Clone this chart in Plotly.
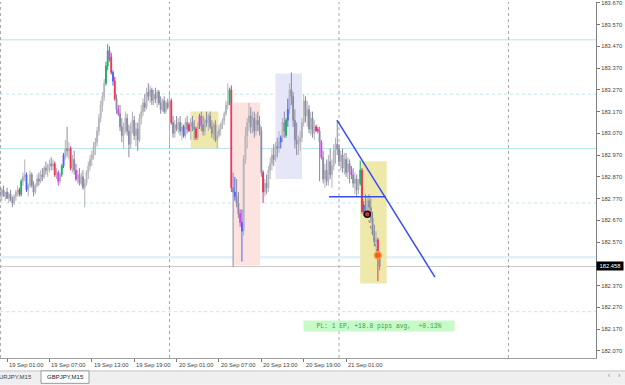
import plotly.graph_objects as go
import pandas as pd

# ---------------- data ----------------
bar_start = "2023-09-19 00:00"

open_p = [
    182.80, 182.79, 182.81, 182.78, 182.80, 182.77, 182.79, 182.76, 182.75, 182.78,
    182.80, 182.81, 182.79, 182.85, 182.87, 182.88, 182.81, 182.83, 182.88, 182.83,
    182.80, 182.83, 182.86, 182.85, 182.88, 182.87, 182.91, 182.90, 182.92, 182.93,
    182.92, 182.93, 182.88, 182.89, 182.85, 182.88, 182.92, 182.97, 183.00, 182.99,
    183.00, 182.91, 182.95, 182.90, 182.86, 182.88, 182.84, 182.87, 182.82, 182.84,
    182.89, 182.92, 182.95, 182.97, 183.01, 183.03, 183.08, 183.14, 183.20, 183.24,
    183.30, 183.38, 183.45, 183.42, 183.35, 183.31, 183.23, 183.18, 183.16, 183.10,
    183.06, 183.09, 183.14, 183.08, 183.02, 183.10, 183.13, 183.06, 183.09, 183.04,
    183.14, 183.17, 183.21, 183.19, 183.26, 183.24, 183.27, 183.22, 183.25, 183.23,
    183.26, 183.21, 183.18, 183.22, 183.17, 183.21, 183.19, 183.22, 183.12, 183.07,
    183.11, 183.09, 183.12, 183.08, 183.10, 183.06, 183.12, 183.11, 183.08, 183.12,
    183.10, 183.09, 183.05, 183.10, 183.15, 183.11, 183.08, 183.13, 183.12, 183.15,
    183.10, 183.07, 183.11, 183.04, 183.06, 183.09, 183.11, 183.13, 183.16, 183.20,
    183.21, 183.27, 182.82, 182.80, 182.78, 182.75, 182.70, 182.66, 182.62, 182.95,
    183.06, 183.12, 183.15, 183.10, 183.14, 183.08, 183.13, 183.11, 183.08, 182.89,
    182.80, 182.84, 182.82, 182.90, 182.93, 182.97, 182.95, 183.01, 183.00, 183.03,
    183.05, 183.12, 183.06, 183.13, 183.18, 183.27, 183.24, 183.13, 183.04, 183.02,
    183.03, 183.05, 183.12, 183.22, 183.15, 183.18, 183.09, 183.14, 183.07, 183.10,
    183.09, 183.08, 183.03, 182.96, 182.86, 182.90, 182.85, 182.94, 182.88, 182.92,
    182.99, 183.02, 183.00, 182.94, 182.97, 182.91, 182.95, 182.89, 182.93, 182.90,
    182.88, 182.84, 182.86, 182.81, 182.84, 182.90, 182.71, 182.74, 182.72, 182.76,
    182.73, 182.68, 182.62, 182.57, 182.58, 182.50,
]
high_p = [
    182.83, 182.82, 182.83, 182.80, 182.82, 182.80, 182.81, 182.78, 182.79, 182.81,
    182.83, 182.82, 182.86, 182.89, 182.95, 182.89, 182.84, 182.90, 182.89, 182.85,
    182.84, 182.88, 182.89, 182.90, 182.91, 182.92, 182.94, 182.93, 182.95, 182.96,
    182.95, 182.94, 182.91, 182.90, 182.89, 182.93, 182.98, 183.04, 183.10, 183.03,
    183.01, 182.97, 182.99, 182.93, 182.90, 182.91, 182.89, 182.90, 182.86, 182.90,
    182.94, 182.97, 182.99, 183.03, 183.05, 183.10, 183.16, 183.22, 183.26, 183.32,
    183.40, 183.48, 183.47, 183.44, 183.36, 183.33, 183.25, 183.20, 183.20, 183.14,
    183.12, 183.17, 183.16, 183.11, 183.12, 183.17, 183.15, 183.12, 183.12, 183.16,
    183.20, 183.23, 183.25, 183.28, 183.30, 183.29, 183.28, 183.27, 183.28, 183.27,
    183.27, 183.24, 183.23, 183.24, 183.22, 183.23, 183.25, 183.23, 183.15, 183.13,
    183.15, 183.14, 183.15, 183.12, 183.11, 183.14, 183.15, 183.12, 183.14, 183.15,
    183.13, 183.10, 183.12, 183.16, 183.17, 183.15, 183.14, 183.17, 183.16, 183.17,
    183.13, 183.12, 183.13, 183.08, 183.11, 183.12, 183.14, 183.17, 183.22, 183.30,
    183.28, 183.29, 182.89, 182.87, 182.86, 182.80, 182.72, 182.72, 182.97, 183.10,
    183.14, 183.21, 183.19, 183.17, 183.17, 183.16, 183.17, 183.15, 183.10, 182.90,
    182.86, 182.88, 182.92, 182.96, 183.00, 183.02, 183.03, 183.05, 183.08, 183.06,
    183.14, 183.17, 183.14, 183.23, 183.30, 183.35, 183.26, 183.18, 183.12, 183.06,
    183.08, 183.14, 183.25, 183.24, 183.22, 183.20, 183.17, 183.17, 183.13, 183.11,
    183.10, 183.10, 183.04, 182.99, 182.93, 182.95, 182.97, 183.00, 182.95, 183.02,
    183.05, 183.13, 183.02, 182.99, 183.00, 182.98, 182.98, 182.96, 182.95, 182.92,
    182.91, 182.89, 182.88, 182.86, 182.945, 182.91, 182.76, 182.79, 182.78, 182.79,
    182.77, 182.71, 182.65, 182.62, 182.59, 182.51,
]
low_p = [
    182.77, 182.76, 182.78, 182.76, 182.77, 182.75, 182.76, 182.73, 182.74, 182.76,
    182.78, 182.78, 182.78, 182.83, 182.85, 182.80, 182.78, 182.82, 182.82, 182.78,
    182.79, 182.82, 182.83, 182.84, 182.85, 182.86, 182.88, 182.87, 182.89, 182.90,
    182.90, 182.87, 182.86, 182.83, 182.84, 182.87, 182.91, 182.95, 182.96, 182.95,
    182.90, 182.89, 182.88, 182.85, 182.84, 182.83, 182.83, 182.81, 182.73, 182.83,
    182.86, 182.90, 182.92, 182.95, 182.97, 183.01, 183.06, 183.12, 183.17, 183.22,
    183.29, 183.36, 183.40, 183.34, 183.29, 183.22, 183.16, 183.15, 183.08, 183.03,
    183.00, 183.07, 183.06, 182.96, 183.00, 183.07, 183.04, 183.01, 182.99, 183.03,
    183.11, 183.15, 183.17, 183.18, 183.22, 183.21, 183.20, 183.20, 183.21, 183.19,
    183.20, 183.16, 183.17, 183.16, 183.16, 183.18, 183.00, 183.11, 183.05, 183.05,
    183.08, 183.07, 183.06, 183.04, 183.05, 183.05, 183.07, 183.08, 183.04, 183.08,
    183.04, 183.04, 183.04, 183.09, 183.08, 183.06, 183.06, 183.10, 183.08, 183.09,
    183.05, 183.04, 183.03, 183.00, 183.05, 183.06, 183.09, 183.11, 183.15, 183.18,
    183.20, 182.80, 182.455, 182.76, 182.73, 182.68, 182.64, 182.48, 182.60, 182.93,
    183.00, 183.08, 183.07, 183.07, 183.05, 183.06, 183.08, 183.06, 182.87, 182.75,
    182.78, 182.79, 182.80, 182.86, 182.90, 182.92, 182.94, 182.96, 182.98, 183.00,
    183.03, 183.05, 183.05, 183.10, 183.16, 183.20, 183.10, 183.00, 182.97, 182.97,
    182.99, 183.03, 183.10, 183.12, 183.10, 183.07, 183.06, 183.05, 183.04, 183.08,
    183.07, 182.85, 182.95, 182.84, 182.82, 182.83, 182.83, 182.86, 182.82, 182.90,
    182.93, 182.97, 182.92, 182.90, 182.89, 182.88, 182.87, 182.86, 182.84, 182.86,
    182.82, 182.79, 182.78, 182.79, 182.83, 182.70, 182.69, 182.70, 182.68, 182.70,
    182.66, 182.60, 182.55, 182.53, 182.39, 182.44,
]
close_p = [
    182.79, 182.81, 182.78, 182.80, 182.77, 182.79, 182.76, 182.75, 182.78, 182.80,
    182.81, 182.79, 182.85, 182.87, 182.88, 182.81, 182.83, 182.88, 182.83, 182.80,
    182.83, 182.86, 182.85, 182.88, 182.87, 182.91, 182.90, 182.92, 182.93, 182.92,
    182.93, 182.88, 182.89, 182.85, 182.88, 182.92, 182.97, 183.00, 182.99, 183.00,
    182.91, 182.95, 182.90, 182.86, 182.88, 182.84, 182.87, 182.82, 182.84, 182.89,
    182.92, 182.95, 182.97, 183.01, 183.03, 183.08, 183.14, 183.20, 183.24, 183.30,
    183.38, 183.45, 183.41, 183.35, 183.31, 183.23, 183.18, 183.16, 183.10, 183.06,
    183.09, 183.14, 183.08, 183.02, 183.10, 183.13, 183.06, 183.09, 183.04, 183.14,
    183.17, 183.21, 183.19, 183.26, 183.24, 183.27, 183.22, 183.25, 183.23, 183.26,
    183.21, 183.18, 183.22, 183.17, 183.21, 183.19, 183.22, 183.12, 183.07, 183.11,
    183.09, 183.12, 183.08, 183.10, 183.06, 183.12, 183.09, 183.08, 183.12, 183.10,
    183.09, 183.05, 183.10, 183.15, 183.11, 183.08, 183.13, 183.12, 183.15, 183.10,
    183.07, 183.11, 183.04, 183.06, 183.09, 183.11, 183.13, 183.16, 183.20, 183.21,
    183.27, 182.82, 182.80, 182.78, 182.75, 182.70, 182.66, 182.62, 182.95, 183.06,
    183.12, 183.15, 183.10, 183.14, 183.08, 183.13, 183.11, 183.08, 182.89, 182.80,
    182.84, 182.82, 182.90, 182.93, 182.97, 182.95, 183.01, 183.00, 183.03, 183.05,
    183.12, 183.08, 183.13, 183.18, 183.27, 183.24, 183.13, 183.04, 183.02, 183.03,
    183.05, 183.12, 183.22, 183.15, 183.18, 183.09, 183.14, 183.07, 183.10, 183.08,
    183.08, 183.03, 182.96, 182.86, 182.90, 182.85, 182.94, 182.88, 182.92, 182.99,
    183.02, 183.00, 182.94, 182.97, 182.91, 182.95, 182.89, 182.93, 182.90, 182.88,
    182.84, 182.86, 182.81, 182.84, 182.90, 182.71, 182.74, 182.72, 182.76, 182.73,
    182.68, 182.62, 182.57, 182.58, 182.50, 182.458,
]

# bars highlighted by the signal indicator (bar indices)
red_bars = [11, 31, 40, 63, 65, 97, 107, 111, 131, 149, 179, 205, 214]
green_bars = [12, 35, 60, 61, 130, 162, 204]
blue_bars = [15, 36, 64, 104, 133, 137, 159, 163, 206]
magenta_bars = [33, 43, 62, 67, 113, 136, 180, 182, 199]

x_tick_times = ["2023-09-19 01:00", "2023-09-19 07:00", "2023-09-19 13:00",
                "2023-09-19 19:00", "2023-09-20 01:00", "2023-09-20 07:00",
                "2023-09-20 13:00", "2023-09-20 19:00", "2023-09-21 01:00"]
x_tick_labels = ["19 Sep 01:00", "19 Sep 07:00", "19 Sep 13:00", "19 Sep 19:00",
                 "20 Sep 01:00", "20 Sep 07:00", "20 Sep 13:00", "20 Sep 19:00",
                 "21 Sep 01:00"]
y_tick_vals = [182.07, 182.17, 182.27, 182.37, 182.47, 182.57, 182.67, 182.77,
               182.87, 182.97, 183.07, 183.17, 183.27, 183.37, 183.47, 183.57, 183.67]

solid_levels = [183.50, 183.00]
band_levels = [182.50]
dotted_levels = [183.25, 182.75, 182.25]
day_separators = ["2023-09-20 00:00", "2023-09-21 00:00", "2023-09-22 00:00"]
last_price = 182.458

# chart objects: (time from, time to, price top, price bottom, colour)
rect_objects = [
    ("2023-09-20 03:00", "2023-09-20 06:55", 183.171, 183.002, "#eee8aa"),
    ("2023-09-20 09:00", "2023-09-20 12:50", 183.212, 182.462, "#fde3e0"),
    ("2023-09-20 15:00", "2023-09-20 18:45", 183.345, 182.860, "#e6e6f9"),
    ("2023-09-21 03:00", "2023-09-21 06:45", 182.942, 182.380, "#eee8aa"),
]
trend_times = ["2023-09-20 23:43", "2023-09-21 13:35"]
trend_prices = [183.131, 182.409]
hline_times = ["2023-09-20 22:35", "2023-09-21 06:39"]
hline_prices = [182.779, 182.779]
trade_times = ["2023-09-21 04:00", "2023-09-21 05:30"]
trade_prices = [182.698, 182.510]
pl_text = "PL: 1 EP, +18.8 pips avg,\u00a0 +0.13%"
tabs = ["EURJPY,M15", "GBPJPY,M15"]

assert len(open_p) == len(high_p) == len(low_p) == len(close_p)

# ---------------- figure ----------------
times = pd.date_range(bar_start, periods=len(close_p), freq="15min")
W, H, PW, PH = 625, 385, 596, 358
FONT = "Liberation Sans"

fig = go.Figure()


def candles(idx, inc_line, inc_fill, dec_line, dec_fill):
    return go.Candlestick(
        x=[times[i] for i in idx],
        open=[open_p[i] for i in idx], high=[high_p[i] for i in idx],
        low=[low_p[i] for i in idx], close=[close_p[i] for i in idx],
        increasing=dict(line=dict(color=inc_line, width=1), fillcolor=inc_fill),
        decreasing=dict(line=dict(color=dec_line, width=1), fillcolor=dec_fill),
        whiskerwidth=0, showlegend=False, hoverinfo="skip")


colored = set(red_bars + green_bars + blue_bars + magenta_bars)
gray_idx = [i for i in range(len(close_p)) if i not in colored]
fig.add_trace(candles(gray_idx, "#b2b2ba", "#c8c8cc", "#8a8aa4", "#9494ac"))
for idx, col in [(red_bars, "#ee3355"), (green_bars, "#1fae6a"),
                 (blue_bars, "#4a62ff"), (magenta_bars, "#d040e8")]:
    fig.add_trace(candles(idx, col, col, col, col))

# trend lines
fig.add_trace(go.Scatter(x=trend_times, y=trend_prices, mode="lines",
                         line=dict(color="#3a4cf0", width=1.5),
                         showlegend=False, hoverinfo="skip"))
fig.add_trace(go.Scatter(x=hline_times, y=hline_prices, mode="lines",
                         line=dict(color="#3a4cf0", width=1.5),
                         showlegend=False, hoverinfo="skip"))
# trade line + markers
fig.add_trace(go.Scatter(x=trade_times, y=trade_prices, mode="lines",
                         line=dict(color="#8a8a8a", width=1, dash="dot"),
                         showlegend=False, hoverinfo="skip"))
fig.add_trace(go.Scatter(x=[trade_times[0]], y=[trade_prices[0]], mode="markers",
                         marker=dict(size=6, color="#d03030",
                                     line=dict(color="#111111", width=1.5)),
                         showlegend=False, hoverinfo="skip"))
fig.add_trace(go.Scatter(x=[trade_times[1]], y=[trade_prices[1]], mode="markers",
                         marker=dict(size=7, color="#ff5a1a",
                                     line=dict(color="#e8a840", width=1.5)),
                         showlegend=False, hoverinfo="skip"))

shapes = []
for t0, t1, y0, y1, col in rect_objects:
    shapes.append(dict(type="rect", xref="x", yref="y", x0=t0, x1=t1, y0=y0, y1=y1,
                       fillcolor=col, line=dict(width=0), layer="below"))
for lv in solid_levels:
    shapes.append(dict(type="line", xref="paper", yref="y", x0=0, x1=1, y0=lv, y1=lv,
                       line=dict(color="#b6e3ea", width=1), layer="below"))
for lv in band_levels:
    shapes.append(dict(type="line", xref="paper", yref="y", x0=0, x1=1, y0=lv, y1=lv,
                       line=dict(color="#e2f1f8", width=2.5), layer="below"))
for lv in dotted_levels:
    shapes.append(dict(type="line", xref="paper", yref="y", x0=0, x1=1, y0=lv, y1=lv,
                       line=dict(color="#c6e6ee", width=1, dash="dot"), layer="below"))
shapes.append(dict(type="line", xref="paper", yref="y", x0=0, x1=1, y0=last_price,
                   y1=last_price, line=dict(color="#c8c8c8", width=1), layer="below"))
for d in day_separators:
    shapes.append(dict(type="line", xref="x", yref="paper", x0=d, x1=d, y0=0, y1=1,
                       line=dict(color="#a8a8a8", width=1, dash="dot"), layer="below"))
shapes.append(dict(type="line", xref="paper", yref="paper", x0=0.001, x1=0.001, y0=0, y1=1,
                   line=dict(color="#a8a8a8", width=1, dash="dot"), layer="below"))


def px(X):
    return X / PW


def py(Y):
    return (PH - Y) / PH


# bottom tab bar
shapes.append(dict(type="rect", xref="paper", yref="paper", x0=px(0), x1=px(W),
                   y0=py(H), y1=py(371), fillcolor="#efefef", line=dict(width=0)))
shapes.append(dict(type="line", xref="paper", yref="paper", x0=px(0), x1=px(W),
                   y0=py(371), y1=py(371), line=dict(color="#c4c4c4", width=1)))
shapes.append(dict(type="rect", xref="paper", yref="paper", x0=px(41), x1=px(89),
                   y0=py(383.5), y1=py(371), fillcolor="#ffffff",
                   line=dict(color="#9a9a9a", width=1)))

annotations = []
for t, lab in zip(x_tick_times, x_tick_labels):
    annotations.append(dict(x=t, y=py(365.5), xref="x", yref="paper", text=lab,
                            showarrow=False, xanchor="left", yanchor="middle", xshift=0,
                            font=dict(family=FONT, size=5.8, color="#444444")))
annotations.append(dict(x=1, y=last_price, xref="paper", yref="y",
                        text=f"{last_price:.3f}", showarrow=False, xanchor="left",
                        yanchor="middle", bgcolor="#000000", borderpad=1, width=24,
                        font=dict(family=FONT, size=5.8, color="#ffffff")))
annotations.append(dict(x=px(303), y=py(325.5), xref="paper", yref="paper", text=pl_text,
                        showarrow=False, xanchor="left", yanchor="middle",
                        bgcolor="#c8fac8", borderpad=1, width=148, height=8,
                        align="center",
                        font=dict(family="Liberation Mono", size=6.3, color="#3aa050")))
annotations.append(dict(x=px(34), y=py(377.5), xref="paper", yref="paper", text=tabs[0],
                        showarrow=False, xanchor="right", yanchor="middle",
                        font=dict(family=FONT, size=6, color="#444444")))
annotations.append(dict(x=px(65), y=py(377.5), xref="paper", yref="paper", text=tabs[1],
                        showarrow=False, xanchor="center", yanchor="middle",
                        font=dict(family=FONT, size=6, color="#222222")))
for X, ch in [(609, "\u2039"), (619, "\u203a")]:
    annotations.append(dict(x=px(X), y=py(376), xref="paper", yref="paper", text=ch,
                            showarrow=False, xanchor="center", yanchor="middle",
                            font=dict(family=FONT, size=7, color="#888888")))

fig.update_layout(
    width=W, height=H, margin=dict(l=0, r=W - PW, t=0, b=H - PH),
    paper_bgcolor="#ffffff", plot_bgcolor="#ffffff", showlegend=False,
    xaxis=dict(type="date", range=["2023-09-19 00:00", "2023-09-22 12:23"],
               rangeslider=dict(visible=False), showgrid=False, zeroline=False,
               showline=True, linecolor="#a0a0a0", linewidth=1,
               ticks="outside", ticklen=3, tickcolor="#777777",
               tickvals=x_tick_times, showticklabels=False),
    yaxis=dict(side="right", range=[182.037, 183.674], showgrid=False, zeroline=False,
               showline=True, linecolor="#808080", linewidth=1,
               ticks="outside", ticklen=3, tickcolor="#777777",
               tickvals=y_tick_vals, tickformat=".3f", ticklabeloverflow="allow",
               tickfont=dict(family=FONT, size=5.8, color="#444444")),
    shapes=shapes, annotations=annotations,
)

fig.write_html("out.html")
